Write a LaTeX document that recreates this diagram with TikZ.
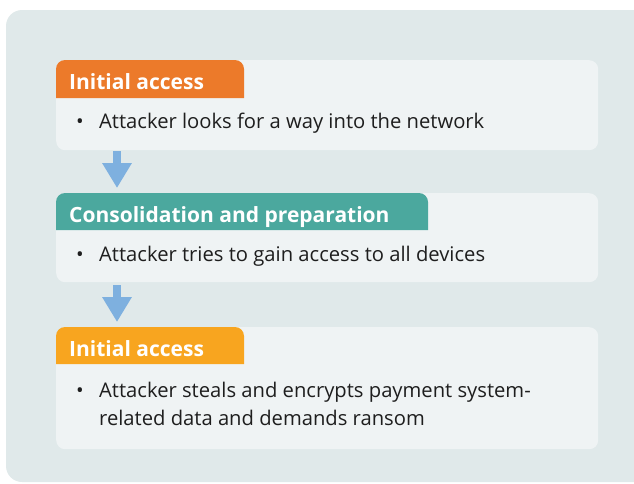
\documentclass[tikz,border=0pt]{standalone}
\usepackage{fontspec}
\setmainfont{Open Sans}
\usetikzlibrary{arrows.meta}
\definecolor{panelbg}{RGB}{224,233,234}
\definecolor{boxbg}{RGB}{239,243,244}
\definecolor{hdorange}{RGB}{236,122,42}
\definecolor{hdteal}{RGB}{75,168,158}
\definecolor{hdyellow}{RGB}{248,165,31}
\definecolor{flowblue}{RGB}{126,176,223}
\definecolor{bodytext}{RGB}{30,30,30}
\tikzset{
  stagebox/.style={fill=boxbg, rounded corners=9pt, minimum width=542pt, anchor=north west, inner sep=0pt},
  headtext/.style={text=white, font=\fontsize{21}{24}\selectfont\bfseries, anchor=base west, inner sep=0pt},
  bodytextnode/.style={text=bodytext, font=\fontsize{20.2}{28}\selectfont, anchor=base west, inner sep=0pt, align=left},
  bulletmark/.style={text=bodytext, font=\fontsize{20.2}{28}\selectfont, anchor=base west, inner sep=0pt},
  flowarrow/.style={draw=flowblue, line width=8pt, -{Triangle[width=28pt,length=25pt]}},
}
\begin{document}
\begin{tikzpicture}[x=1pt,y=-1pt]
  \useasboundingbox (0,0) rectangle (634,483);
  % outer panel
  \fill[panelbg, rounded corners=16pt] (6,10) rectangle (650,482);

  % stage boxes
  \node[stagebox, minimum height=90pt] (b1) at (56,60) {};
  \node[stagebox, minimum height=89pt] (b2) at (56,193) {};
  \node[stagebox, minimum height=122pt] (b3) at (56,327) {};

  % header tabs (rounded on top only)
  \fill[hdorange] (b1.north west) ++(0,38) [rounded corners=9pt] -- (b1.north west) -- ++(188,0) [sharp corners] -- ++(0,38) -- cycle;
  \fill[hdteal] (b2.north west) ++(0,37) [rounded corners=9pt] -- (b2.north west) -- ++(372,0) [sharp corners] -- ++(0,37) -- cycle;
  \fill[hdyellow] (b3.north west) ++(0,37) [rounded corners=9pt] -- (b3.north west) -- ++(188,0) [sharp corners] -- ++(0,37) -- cycle;

  % header labels
  \node[headtext] (h1) at (69,89) {Initial access};
  \node[headtext] (h2) at (69,222) {Consolidation and preparation};
  \node[headtext] (h3) at (69,356) {Initial access};

  % bullets and their texts (a two-line node is anchored on its last baseline)
  \node[bulletmark] (m1) at (76,128) {\textbullet};
  \node[bodytextnode] (t1) at (99,128) {Attacker looks for a way into the network};
  \node[bulletmark] (m2) at (76,261) {\textbullet};
  \node[bodytextnode] (t2) at (99,261) {Attacker tries to gain access to all devices};
  \node[bulletmark] (m3) at (76,397) {\textbullet};
  \node[bodytextnode] (t3) at (99,425) {Attacker steals and encrypts payment system-\\related data and demands ransom};

  % flow arrows between stages
  \draw[flowarrow, shorten <=1pt, shorten >=5pt] (b1.south west) ++(61,0) coordinate (a1s) (a1s) -- (a1s |- b2.north);
  \draw[flowarrow, shorten <=3pt, shorten >=5pt] (b2.south west) ++(61,0) coordinate (a2s) (a2s) -- (a2s |- b3.north);
\end{tikzpicture}
\end{document}
